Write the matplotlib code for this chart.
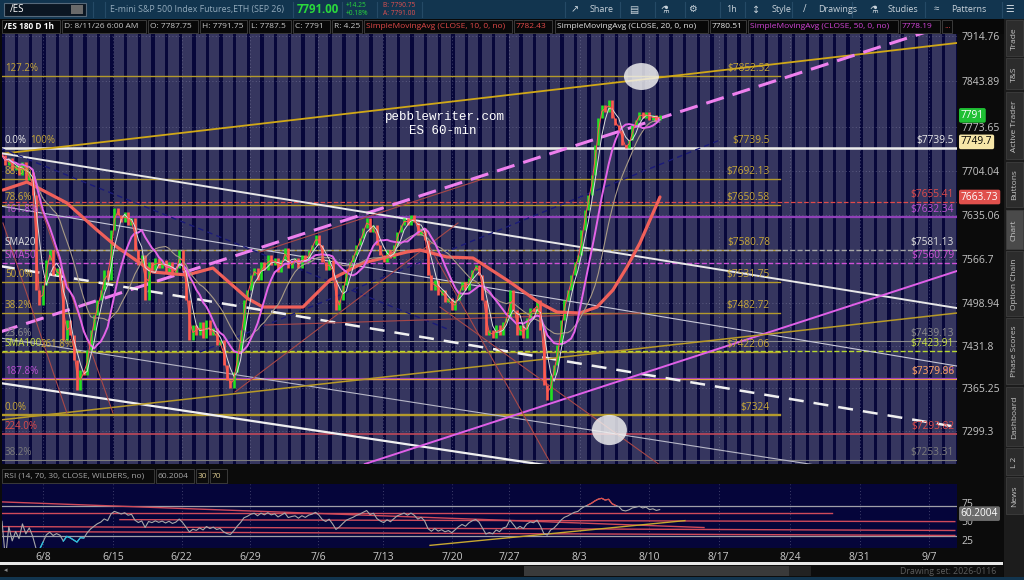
import numpy as np
import pandas as pd
import matplotlib
matplotlib.use("Agg")
import matplotlib.pyplot as plt
import matplotlib.transforms as mtrans
from matplotlib.patches import Rectangle, Ellipse

plt.rcParams['font.family'] = ['Open Sans', 'DejaVu Sans']

W, H = 1024, 580

# ---------------- data ----------------
# /ES 1h, closes sampled 4 per session; first session is 3 sessions before 6/8
closes = [
    7729.25, 7713.5, 7724.5, 7705.75,
    7713.5, 7698, 7718.25, 7690.25,
    7702.75, 7666.75, 7518.75, 7495.25,
    7526.5, 7565.5, 7581, 7542,
    7553, 7534.25, 7440.75, 7472,
    7448.5, 7409.5, 7362.75, 7394,
    7386, 7425, 7456.25, 7479.75,
    7503, 7518.75, 7550, 7534.25,
    7612.25, 7646.5, 7635.5, 7624.5,
    7640.25, 7620, 7630.75, 7581,
    7557.75, 7573.25, 7503, 7562.5,
    7550, 7568.5, 7553, 7565.5,
    7546.75, 7562.5, 7542, 7553,
    7581, 7550, 7503, 7440.75,
    7464, 7448.5, 7468.75, 7443.75,
    7472, 7448.5, 7459.5, 7433,
    7440.75, 7401.75, 7378.5, 7366,
    7391, 7425, 7456.25, 7503,
    7518.75, 7542, 7553, 7534.25,
    7562.5, 7550, 7573.25, 7557.75,
    7568.5, 7546.75, 7565.5, 7584.25,
    7553, 7562.5, 7568.5, 7553,
    7573.25, 7562.5, 7581, 7589,
    7604.5, 7589, 7562.5, 7550,
    7565.5, 7534.25, 7487.5, 7503,
    7526.5, 7550, 7562.5, 7573.25,
    7589, 7599.75, 7615.5, 7630.75,
    7609.25, 7620, 7589, 7573.25,
    7562.5, 7581, 7568.5, 7589,
    7609.25, 7620, 7630.75, 7620,
    7635.5, 7624.5, 7604.5, 7615.5,
    7596.75, 7542, 7518.75, 7534.25,
    7511, 7518.75, 7500, 7506.25,
    7487.5, 7503, 7518.75, 7531.25,
    7518.75, 7537.5, 7550, 7557.75,
    7542, 7503, 7448.5, 7456.25,
    7443.75, 7464, 7448.5, 7468.75,
    7475, 7518.75, 7487.5, 7448.5,
    7464, 7443.75, 7475, 7490.75,
    7484.5, 7503, 7456.25, 7370.5,
    7347.25, 7386, 7401.75, 7433,
    7472, 7503, 7518.75, 7542,
    7562.5, 7573.25, 7612.25, 7643.5,
    7666.75, 7698, 7744.75, 7787,
    7807.25, 7796.25, 7815, 7787,
    7776, 7768.25, 7744.75, 7740,
    7752.5, 7776, 7783.75, 7796.25,
    7787, 7796.25, 7783.75, 7791.5,
    7783.75, 7791,
]
first_session = -3.0
bars_per_session = 4

# slow (thick salmon) moving average, read at points along the curve
slow_ma_x = [-2.93, -1.17, 1.76, 3.96, 5.43, 7.12, 8.07, 10.56, 12.47, 14.97, 16.14,
             19.08, 21.06, 23.48, 26.71, 27.66, 29.64, 31.55, 34.04, 36.46, 37.71,
             39.40, 40.65, 41.82, 42.85, 43.80, 45.27]
slow_ma_y = [7674.6, 7687.1, 7654.4, 7612.3, 7585.8, 7560.8, 7546.8, 7542.1, 7553.0,
             7506.2, 7492.2, 7492.2, 7534.3, 7560.8, 7578.0, 7581.1, 7570.2, 7568.6,
             7534.3, 7498.4, 7484.4, 7482.8, 7492.2, 7518.7, 7554.6, 7592.0, 7663.73]

week_labels = ['6/8', '6/15', '6/22', '6/29', '7/6', '7/13', '7/20', '7/27',
               '8/3', '8/10', '8/17', '8/24', '8/31', '9/7']
week_pos = [0.0, 5.15, 10.17, 15.19, 20.2, 24.97, 30.0, 34.2,
            39.38, 44.45, 49.58, 54.8, 59.92, 65.0]

price_ticks = [7914.76, 7843.89, 7773.65, 7704.04, 7635.06,
               7566.7, 7498.94, 7431.8, 7365.25, 7299.3]

# fibonacci levels (gold, stop short of the right edge)
fib_prices = [7852.52, 7739.5, 7692.13, 7650.58, 7580.78, 7531.75,
              7482.72, 7422.06, 7379.86, 7324]
fib_left = ['127.2%', '100%', '88.6%', '78.6%', '', '50.0%',
            '38.2%', '261.8%', '', '0.0%']
fib_right = ['$7852.52', '$7739.5', '$7692.13', '$7650.58', '$7580.78', '$7531.75',
             '$7482.72', '$7422.06', '', '$7324']

# full-width levels
lvl_prices = [7739.5, 7655.41, 7632.34, 7581.13, 7560.79, 7439.13,
              7423.91, 7379.98, 7379.86, 7293.82, 7253.31]
lvl_left = ['0.0%', '', '161.8%', 'SMA20', 'SMA50', '23.6%',
            'SMA100', '187.8%', '', '224.0%', '38.2%']
lvl_right = ['$7739.5', '$7655.41', '$7632.34', '$7581.13', '$7560.79', '$7439.13',
             '$7423.91', '$7379.98', '$7379.86', '$7293.82', '$7253.31']
lvl_color = ['#ececec', '#e04a4a', '#9040b8', '#a8a8a8', '#d050d8', '#8c8c8c',
             '#b8d830', '#a040c0', '#e0a040', '#c04858', '#7c7c7c']
lvl_text = ['#ececec', '#e04a4a', '#c050d8', '#e0e0e0', '#d050d8', '#8c8c8c',
            '#c8e040', '#c050d8', '#e0a040', '#e04a4a', '#7c7c7c']
lvl_style = ['-', '--', '-', '--', '--', '-', '--', '-', '-', '-', '-']
lvl_width = [1.8, 0.9, 1.6, 1.0, 1.0, 0.8, 1.0, 1.6, 0.8, 1.2, 0.8]

# left tags that share a row with another tag are nudged right (points)
left_nudge = {'100%': 18, '261.8%': 26}

# trendlines: (start session, start price, end session, end price)
trend_lines = {
    'gold_up':    (-3.15, 7730.8, 67.05, 7903.9),
    'mag_dash':   (-3.15, 7453.2, 67.05, 7936.6),
    'white_a':    (-3.15, 7732.3, 67.05, 7490.6),
    'white_b':    (-3.15, 7649.7, 67.05, 7400.2),
    'white_c':    (-3.15, 7556.1, 67.05, 7305.1),
    'white_d':    (-3.15, 7443.9, 67.05, 7211.5),
    'white_e':    (-3.15, 7373.7, 67.05, 7149.1),
    'mag_low':    (23.62, 7247.4, 67.05, 7548.3),
    'gold_low':   (-3.15, 7316.0, 67.05, 7482.8),
    'navy_up':    (11.52, 7422.0, 49.67, 7752.6),
    'navy_dn':    (-3.15, 7740.1, 29.86, 7456.3),
    'red_1':      (-2.93, 7623.2, 1.76, 7326.9),
    'red_2':      (-1.32, 7716.7, 5.14, 7326.9),
    'red_3':      (14.09, 7359.6, 30.45, 7623.2),
    'red_4':      (16.29, 7464.1, 43.8, 7482.8),
    'red_5':      (15.92, 7578.0, 32.06, 7690.2),
    'red_6':      (27.15, 7632.5, 37.2, 7250.5),
    'red_7':      (29.13, 7492.2, 45.27, 7245.8),
}
trend_style = {
    'gold_up': ('#d0a818', '-', 1.3), 'mag_dash': ('#ee80ee', (0, (6, 3)), 2.2),
    'white_a': ('#e8e8e8', '-', 1.4), 'white_b': ('#c8c8d8', '-', 0.8),
    'white_c': ('#f0f0f0', (0, (6, 4)), 1.8), 'white_d': ('#b8b8c8', '-', 0.8),
    'white_e': ('#f0f0f0', '-', 1.6), 'mag_low': ('#e060e8', '-', 1.4),
    'gold_low': ('#b89a28', '-', 1.1), 'navy_up': ('#1a1a78', (0, (4, 3)), 1.0),
    'navy_dn': ('#1a1a78', (0, (4, 3)), 1.0),
}

# circles marked on the chart (session, price)
marks_x = [43.91, 41.56]
marks_y = [7851.6, 7300.4]

# RSI trendlines (start session, start rsi, end session, end rsi)
rsi_lines = [(-3.15, 75.9, 48.5, 41.7), (-3.15, 61.4, 57.9, 61.4),
             (-3.15, 43.0, 66.9, 37.8), (-3.15, 36.4, 66.9, 31.2),
             (5.65, 52.2, 66.9, 49.6)]
rsi_gold_line = (28.4, 18.0, 47.1, 50.9)

# ---------------- derived series ----------------
s = pd.Series(closes, dtype=float)
bar_x = first_session + np.arange(len(s)) / bars_per_session
opens = s.shift(1).fillna(s.iloc[0])
ma_red = s.rolling(2, min_periods=1).mean()
ma_white = s.rolling(4, min_periods=1).mean()
ma_mag = s.rolling(10, min_periods=1).mean()
ma_beige = s.rolling(17, min_periods=1).mean()

delta = s.diff().fillna(0)
gain = delta.clip(lower=0).ewm(alpha=1 / 14, adjust=False).mean()
loss = (-delta.clip(upper=0)).ewm(alpha=1 / 14, adjust=False).mean()
rsi = (100 - 100 / (1 + gain / loss.replace(0, np.nan))).fillna(50)

# ---------------- figure ----------------
fig = plt.figure(figsize=(W / 100, H / 100), dpi=100, facecolor='#0b0b0b')


def rect(x0, y0, x1, y1):
    return [x0 / W, 1 - y1 / H, (x1 - x0) / W, (y1 - y0) / H]


ui = fig.add_axes([0, 0, 1, 1])
ui.set_xlim(0, W)
ui.set_ylim(H, 0)
ui.axis('off')

# top toolbar
ui.add_patch(Rectangle((0, 0), W, 19, fc='#12354f', ec='none'))
ui.add_patch(Rectangle((4, 3), 82, 13, fc='#0b1622', ec='#56697a', lw=0.8))
ui.add_patch(Rectangle((71, 5), 12, 9, fc='#6a6a6a', ec='none'))
ui.text(10, 9.5, '/ES', color='white', fontsize=7, va='center')
ui.text(110, 9.5, 'E-mini S&P 500 Index Futures,ETH (SEP 26)', color='#93aabb', fontsize=6.3, va='center')
ui.text(297, 9.5, '7791.00', color='#2ad83c', fontsize=8.3, fontweight='bold', va='center')
ui.text(346, 5.5, '+14.25', color='#2ad83c', fontsize=4.8, va='center')
ui.text(346, 13.5, '+0.18%', color='#2ad83c', fontsize=4.8, va='center')
ui.text(383, 5.5, 'B: 7790.75', color='#e05050', fontsize=4.8, va='center')
ui.text(383, 13.5, 'A: 7791.00', color='#e05050', fontsize=4.8, va='center')
for xs in [93, 105, 293, 342, 377, 422, 565, 620, 655, 685, 720, 745, 792, 852, 925, 1002]:
    ui.plot([xs, xs], [2, 17], color='#254a66', lw=0.8)
for lbl, xl in [('Share', 590), ('1h', 726), ('Style', 772), ('Drawings', 818),
                ('Studies', 888), ('Patterns', 951)]:
    ui.text(xl, 10, lbl, color='#c8d2da', fontsize=6.5, va='center')
for lbl, xl in [('\u2197', 575), ('\u25a4', 634), ('\u2697', 665), ('\u2699', 692),
                ('\u2195', 756), ('/', 805), ('\u2697', 874), ('\u2248', 936), ('\u2630', 1010)]:
    ui.text(xl, 10, lbl, color='#c8d2da', fontsize=7, va='center', ha='center')

# info row
ui.add_patch(Rectangle((0, 19), W, 15, fc='#080808', ec='none'))
info = [('/ES 180 D 1h', '#ffffff', 2, 60, 'bold'), ('D: 8/11/26 6:00 AM', '#c8c8c8', 62, 146, 'normal'),
        ('O: 7787.75', '#c8c8c8', 148, 198, 'normal'), ('H: 7791.75', '#c8c8c8', 200, 247, 'normal'),
        ('L: 7787.5', '#c8c8c8', 249, 291, 'normal'), ('C: 7791', '#c8c8c8', 293, 330, 'normal'),
        ('R: 4.25', '#c8c8c8', 332, 362, 'normal'),
        ('SimpleMovingAvg (CLOSE, 10, 0, no)', '#e04848', 364, 512, 'normal'),
        ('7782.43', '#e04848', 514, 552, 'normal'),
        ('SimpleMovingAvg (CLOSE, 20, 0, no)', '#e6e6e6', 555, 708, 'normal'),
        ('7780.51', '#e6e6e6', 710, 746, 'normal'),
        ('SimpleMovingAvg (CLOSE, 50, 0, no)', '#d244d8', 748, 898, 'normal'),
        ('7778.19', '#d244d8', 900, 940, 'normal'), ('...', '#e04848', 942, 952, 'normal')]
for txt, col, x0, x1, wt in info:
    ui.add_patch(Rectangle((x0, 20), x1 - x0, 13, fc='none', ec='#3a3a3a', lw=0.7))
    ui.text(x0 + 2, 26.5, txt, color=col, fontsize=6.0, fontweight=wt, va='center')

# RSI header
ui.add_patch(Rectangle((0, 465), 958, 19, fc='#0b0b0b', ec='none'))
for txt, col, x0, x1 in [('RSI (14, 70, 30, CLOSE, WILDERS, no)', '#a8a8a8', 2, 154),
                         ('60.2004', '#a8a8a8', 156, 194), ('30', '#d8c890', 196, 208),
                         ('70', '#d8c890', 210, 227)]:
    ui.add_patch(Rectangle((x0, 469), x1 - x0, 14, fc='none', ec='#3a3a3a', lw=0.7))
    ui.text(x0 + 2, 476, txt, color=col, fontsize=6.0, va='center')

# bottom bar
ui.add_patch(Rectangle((0, 562), 1003, 2.5, fc='#e8e8e8', ec='none'))
ui.add_patch(Rectangle((0, 565), 1003, 12, fc='#0d0d0d', ec='none'))
ui.add_patch(Rectangle((524, 566), 265, 10, fc='#3a3a3a', ec='none'))
ui.add_patch(Rectangle((789, 566), 22, 10, fc='#222222', ec='none'))
ui.text(4, 571, '\u25c2', color='#888888', fontsize=5, va='center')
ui.text(900, 571, 'Drawing set: 2026-0116', color='#5c5c5c', fontsize=6.3, va='center')
ui.add_patch(Rectangle((0, 577), W, 3, fc='#12354f', ec='none'))

# right sidebar tabs
ui.add_patch(Rectangle((1004, 19), 20, 558, fc='#1c1c1c', ec='none'))
tabs = [('Trade', 20, 57), ('T&S', 58, 90), ('Active Trader', 92, 160), ('Buttons', 162, 208),
        ('Chart', 210, 250), ('Option Chain', 251, 317), ('Phase Scores', 318, 385),
        ('Dashboard', 387, 447), ('L 2', 448, 476), ('News', 477, 515)]
for name, y0, y1 in tabs:
    ui.add_patch(Rectangle((1006, y0), 17, y1 - y0 - 1,
                           fc='#4a4a4a' if name == 'Chart' else '#2c2c2c', ec='#3e3e3e', lw=0.6))
    ui.text(1014.5, (y0 + y1) / 2, name, color='#c4c4c4', fontsize=6.0,
            rotation=90, ha='center', va='center')

# ---------------- price panel ----------------
ax = fig.add_axes(rect(2, 34, 957, 464))
ax.set_facecolor('#36365f')
ax.set_xlim(-3.0, 67.06)
ax.set_ylim(7247.4, 7917.9)
for sp in ax.spines.values():
    sp.set_visible(False)
for d in range(-4, 69):
    ax.axvspan(d - 0.05, d + 0.2, color='#07073a', lw=0, zorder=0)
ax.set_axisbelow(True)
ax.grid(True, color='#9090b0', linestyle=(0, (1, 3)), linewidth=0.6, alpha=0.55)
ax.yaxis.tick_right()
ax.set_yticks(price_ticks, [f'{p:g}' for p in price_ticks])
ax.tick_params(axis='y', colors='#c4c4c4', labelsize=7.5, length=0, pad=3)
ax.set_xticks(week_pos)
ax.tick_params(axis='x', labelbottom=False, length=0)

fib_end = 54.07
ykw = mtrans.blended_transform_factory(ax.transAxes, ax.transData)
for p, lt, rt in zip(fib_prices, fib_left, fib_right):
    ax.plot([-3.0, fib_end], [p, p], color='#b49a2c', lw=1.7 if p == 7324 else 1.0, zorder=2)
    if lt:
        ax.annotate(lt, (0.003, p), xycoords=ykw, xytext=(left_nudge.get(lt, 0), 1.5),
                    textcoords='offset points', color='#c8a838', fontsize=7, va='bottom', zorder=6)
    if rt:
        ax.annotate(rt, (53.34, p), xytext=(0, 1.5), textcoords='offset points',
                    color='#c8a838', fontsize=7.3, va='bottom', ha='right', zorder=6)

for p, lt, rt, c, tc, ls, lw in zip(lvl_prices, lvl_left, lvl_right, lvl_color, lvl_text,
                                     lvl_style, lvl_width):
    ax.axhline(p, color=c, ls=ls, lw=lw, zorder=2)
    if lt:
        ax.annotate(lt, (0.003, p), xycoords=ykw, xytext=(0, 1.5), textcoords='offset points',
                    color=tc, fontsize=7, va='bottom', zorder=6)
    ax.annotate(rt, (0.997, p), xycoords=ykw, xytext=(0, 1.5), textcoords='offset points',
                color=tc, fontsize=7.3, va='bottom', ha='right', zorder=6)

for key, (x0, y0, x1, y1) in trend_lines.items():
    col, ls, lw = trend_style.get(key, ('#a84848', '-', 0.8))
    ax.plot([x0, x1], [y0, y1], color=col, ls=ls, lw=lw, zorder=2.5)

# candles (body from previous close to close)
up = (s >= opens).values
ax.vlines(bar_x[up], opens[up], s[up], color='#22e022', lw=1.9, zorder=3)
ax.vlines(bar_x[~up], opens[~up], s[~up], color='#ff5a50', lw=1.9, zorder=3)

ax.plot(slow_ma_x, slow_ma_y, color='#f0605a', lw=2.3, zorder=4, solid_capstyle='round')
ax.plot(bar_x, ma_beige, color='#a89a86', lw=0.8, zorder=4)
ax.plot(bar_x, ma_mag, color='#e464e8', lw=1.4, zorder=4)
ax.plot(bar_x, ma_white, color='#dcdcdc', lw=0.7, zorder=4)
ax.plot(bar_x, ma_red, color='#ff5a50', lw=0.7, zorder=4)

for mx, my, mh in zip(marks_x, marks_y, [42, 47]):
    ax.add_patch(Ellipse((mx, my), 2.57, mh, fc='#f2f2f2', ec='none', alpha=0.82, zorder=5))

ax.text(29.49, 7788.5, 'pebblewriter.com', color='white', fontsize=9,
        family=['Liberation Mono', 'DejaVu Sans Mono'], ha='center', va='center', zorder=6)
ax.text(29.35, 7766.6, 'ES 60-min', color='white', fontsize=9,
        family=['Liberation Mono', 'DejaVu Sans Mono'], ha='center', va='center', zorder=6)

for val, txt, fc, tc in [(7791, '7791', '#1fc034', 'white'), (7749.7, '7749.7', '#f6e6a8', 'black'),
                         (7663.73, '7663.73', '#e0504c', 'white')]:
    ax.text(1.004, val, txt, transform=ykw, color=tc, fontsize=7.3, va='center', ha='left',
            clip_on=False, zorder=7,
            bbox=dict(boxstyle='round,pad=0.18', fc=fc, ec='none'))

# ---------------- RSI panel ----------------
rx = fig.add_axes(rect(2, 484, 957, 548))
rx.set_facecolor('#05053a')
rx.set_xlim(-3.0, 67.06)
rx.set_ylim(14.5, 99.6)
for sp in rx.spines.values():
    sp.set_visible(False)
rx.set_axisbelow(True)
rx.grid(True, axis='x', color='#9090b0', linestyle=(0, (1, 3)), linewidth=0.6, alpha=0.55)
rx.yaxis.tick_right()
rx.set_yticks([25, 50, 75], ['25', '50', '75'])
rx.tick_params(axis='y', colors='#c4c4c4', labelsize=7.5, length=0, pad=3)
rx.set_xticks(week_pos, week_labels)
rx.tick_params(axis='x', colors='#c8c8c8', labelsize=7.5, length=0, pad=3)
rx.axhline(70, color='#a0a0a8', lw=0.9)
rx.axhline(30, color='#a0a0a8', lw=0.9)
for x0, y0, x1, y1 in rsi_lines:
    rx.plot([x0, x1], [y0, y1], color='#d04a5a', lw=1.0)
rx.plot(rsi_gold_line[::2], rsi_gold_line[1::2], color='#c8a830', lw=1.0)
rv = rsi.values
rx.plot(bar_x, rv, color='#a8a8a8', lw=0.8)
rx.plot(bar_x, np.where(rv > 70, rv, np.nan), color='#e04848', lw=0.9)
rx.plot(bar_x, np.where(rv < 30, rv, np.nan), color='#20c0e0', lw=0.9)
rx.text(1.004, 60.2, '60.2004', transform=mtrans.blended_transform_factory(rx.transAxes, rx.transData),
        color='white', fontsize=7.3, va='center', ha='left', clip_on=False,
        bbox=dict(boxstyle='round,pad=0.18', fc='#6c6c6c', ec='none'))

fig.savefig('out.png', dpi=100, facecolor=fig.get_facecolor())
